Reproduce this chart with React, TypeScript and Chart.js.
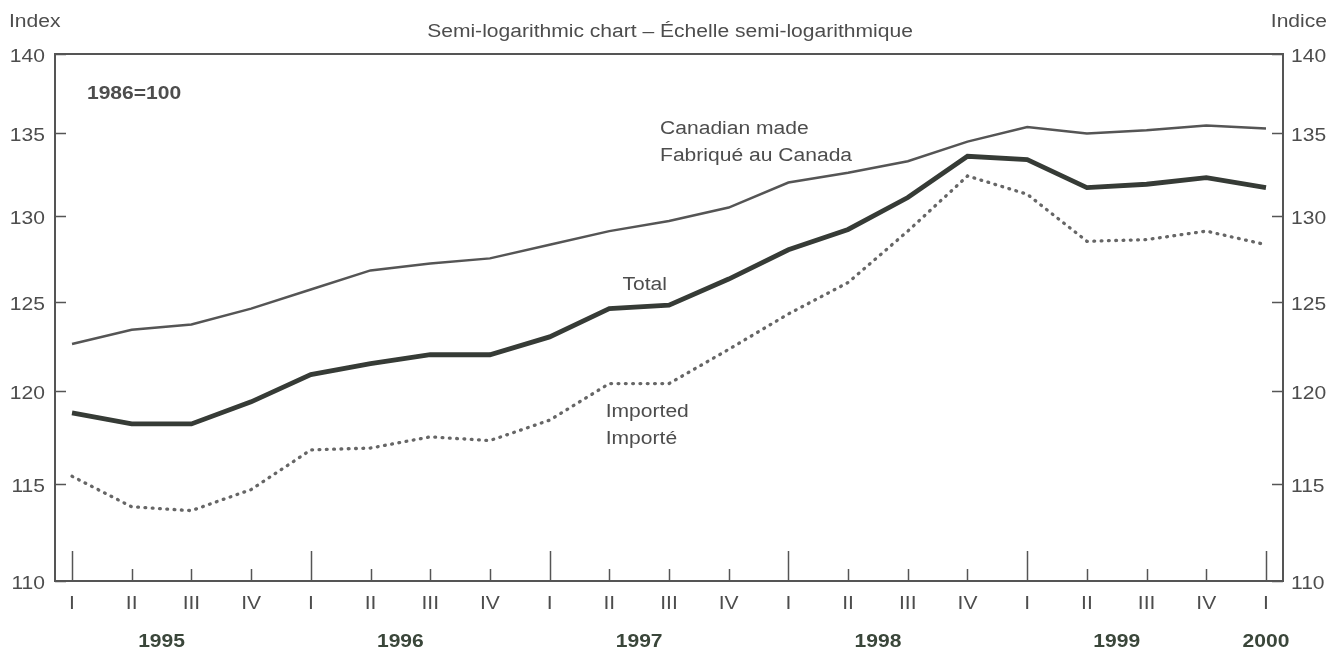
import React, { useEffect, useRef } from 'react';
import { Chart, registerables } from 'chart.js';

Chart.register(...registerables);

// ---- data ----
const quarterLabels = ['I', 'II', 'III', 'IV', 'I', 'II', 'III', 'IV', 'I', 'II', 'III', 'IV', 'I', 'II', 'III', 'IV', 'I', 'II', 'III', 'IV', 'I'];
const yearLabels = ['1995', '1996', '1997', '1998', '1999', '2000'];
const yearPositions = [1.5, 5.5, 9.5, 13.5, 17.5, 20];
const yTickValues = [110, 115, 120, 125, 130, 135, 140];

const canadianMade = [122.6, 123.4, 123.7, 124.6, 125.7, 126.8, 127.2, 127.5, 128.3, 129.1, 129.7, 130.5, 132.0, 132.6, 133.3, 134.5, 135.4, 135.0, 135.2, 135.5, 135.3];
const total = [118.8, 118.2, 118.2, 119.4, 120.9, 121.5, 122.0, 122.0, 123.0, 124.6, 124.8, 126.3, 128.0, 129.2, 131.1, 133.6, 133.4, 131.7, 131.9, 132.3, 131.7];
const imported = [115.4, 113.8, 113.6, 114.7, 116.8, 116.9, 117.5, 117.3, 118.4, 120.4, 120.4, 122.3, 124.3, 126.1, 129.1, 132.4, 131.3, 128.5, 128.6, 129.1, 128.3];

const noteTexts = ['Canadian made', 'Fabriqué au Canada', 'Total', 'Imported', 'Importé'];
const noteX = [9.85, 9.85, 9.22, 8.94, 8.94];
const noteY = [134.94, 133.33, 125.64, 118.56, 117.1];

const titleText = 'Semi-logarithmic chart – Échelle semi-logarithmique';
const leftUnit = 'Index';
const rightUnit = 'Indice';
const baseText = '1986=100';

const TEXT = '#4d4d4d';
const YEAR_COLOR = '#3a463a';
const FONT = '"Liberation Sans", Arial, sans-serif';
const SX = 1.17;

function drawText(ctx: CanvasRenderingContext2D, text: string, x: number, y: number, align: CanvasTextAlign, bold = false, color = TEXT) {
  ctx.save();
  ctx.font = `${bold ? 'bold ' : ''}18px ${FONT}`;
  ctx.fillStyle = color;
  ctx.textAlign = align;
  ctx.textBaseline = 'alphabetic';
  ctx.translate(x, y);
  ctx.scale(SX, 1);
  ctx.fillText(text, 0, 0);
  ctx.restore();
}

const decorPlugin = {
  id: 'decor',
  afterDraw(chart: any) {
    const { ctx, chartArea: a, scales } = chart;
    const x = scales.x;
    const y = scales.y;
    ctx.save();
    // frame
    ctx.strokeStyle = '#555';
    ctx.lineWidth = 2;
    ctx.strokeRect(a.left, a.top, a.right - a.left, a.bottom - a.top);
    // x inner ticks
    ctx.lineWidth = 1.5;
    quarterLabels.forEach((q, i) => {
      const px = Math.round(x.getPixelForValue(i)) + 0.5;
      const len = q === 'I' ? 30 : 12;
      ctx.beginPath();
      ctx.moveTo(px, a.bottom);
      ctx.lineTo(px, a.bottom - len);
      ctx.stroke();
    });
    // y inner ticks both sides
    yTickValues.forEach((v) => {
      const py = Math.round(y.getPixelForValue(v)) + 0.5;
      ctx.beginPath();
      ctx.moveTo(a.left, py);
      ctx.lineTo(a.left + 11, py);
      ctx.moveTo(a.right, py);
      ctx.lineTo(a.right - 11, py);
      ctx.stroke();
    });
    ctx.restore();

    // y tick labels (both sides)
    yTickValues.forEach((v) => {
      const py = y.getPixelForValue(v) + 8;
      drawText(ctx, String(v), a.left - 10, py, 'right');
      drawText(ctx, String(v), a.right + 8, py, 'left');
    });
    // quarter labels
    quarterLabels.forEach((q, i) => {
      drawText(ctx, q, x.getPixelForValue(i), 609, 'center');
    });
    // year labels
    const xy = scales.xYear;
    yearLabels.forEach((t, i) => {
      drawText(ctx, t, xy.getPixelForValue(yearPositions[i]), 647, 'center', true, YEAR_COLOR);
    });
    // annotations
    noteTexts.forEach((t, i) => {
      drawText(ctx, t, x.getPixelForValue(noteX[i]), y.getPixelForValue(noteY[i]), 'left');
    });
    drawText(ctx, baseText, x.getPixelForValue(0.25), y.getPixelForValue(137.15), 'left', true);
    // headers
    drawText(ctx, leftUnit, 9, 27, 'left');
    drawText(ctx, rightUnit, 1327, 27, 'right');
    drawText(ctx, titleText, 670, 37, 'center');
  },
};

export default function App() {
  const ref = useRef<HTMLCanvasElement | null>(null);

  useEffect(() => {
    document.body.style.margin = '0';
    const canvas = ref.current;
    if (!canvas) return;
    const toXY = (arr: number[]) => arr.map((v, i) => ({ x: i, y: v }));
    const logTicks = (scale: any) => {
      scale.ticks = yTickValues.map((v) => ({ value: v }));
    };
    const chart = new Chart(canvas, {
      type: 'line',
      data: {
        datasets: [
          {
            label: 'Canadian made',
            data: toXY(canadianMade),
            borderColor: '#555555',
            borderWidth: 2.5,
            pointRadius: 0,
            tension: 0,
          },
          {
            label: 'Total',
            data: toXY(total),
            borderColor: '#363b36',
            borderWidth: 4.8,
            pointRadius: 0,
            tension: 0,
          },
          {
            label: 'Imported',
            data: toXY(imported),
            borderColor: '#666666',
            borderWidth: 3.3,
            borderDash: [0.8, 6.5],
            borderCapStyle: 'round',
            pointRadius: 0,
            tension: 0,
          },
        ],
      },
      options: {
        responsive: false,
        maintainAspectRatio: false,
        animation: false,
        layout: { padding: { top: 54, left: 0, right: 0, bottom: 0 } },
        plugins: { legend: { display: false }, tooltip: { enabled: false }, title: { display: false } },
        scales: {
          x: {
            type: 'linear',
            position: 'bottom',
            min: -0.285,
            max: 20.285,
            grid: { display: false, drawTicks: false },
            border: { display: false },
            afterBuildTicks: (scale: any) => {
              scale.ticks = quarterLabels.map((_, i) => ({ value: i }));
            },
            afterFit: (scale: any) => {
              scale.height = 38;
            },
            ticks: { display: false },
          },
          xYear: {
            type: 'linear',
            position: 'bottom',
            min: -0.285,
            max: 20.285,
            grid: { display: false, drawTicks: false },
            border: { display: false },
            afterBuildTicks: (scale: any) => {
              scale.ticks = yearPositions.map((p) => ({ value: p }));
            },
            afterFit: (scale: any) => {
              scale.height = 35;
            },
            ticks: { display: false },
          },
          y: {
            type: 'logarithmic',
            position: 'left',
            min: 110,
            max: 140,
            grid: { display: false, drawTicks: false },
            border: { display: false },
            afterBuildTicks: logTicks,
            afterFit: (scale: any) => {
              scale.width = 55;
            },
            ticks: { display: false },
          },
          y2: {
            type: 'logarithmic',
            position: 'right',
            min: 110,
            max: 140,
            grid: { display: false, drawTicks: false },
            border: { display: false },
            afterBuildTicks: logTicks,
            afterFit: (scale: any) => {
              scale.width = 60;
            },
            ticks: { display: false },
          },
        },
      },
      plugins: [decorPlugin],
    } as any);
    return () => chart.destroy();
  }, []);

  return (
    <div style={{ width: 1343, height: 654, background: '#fff' }}>
      <canvas ref={ref} width={1343} height={654} style={{ display: 'block' }} />
    </div>
  );
}
